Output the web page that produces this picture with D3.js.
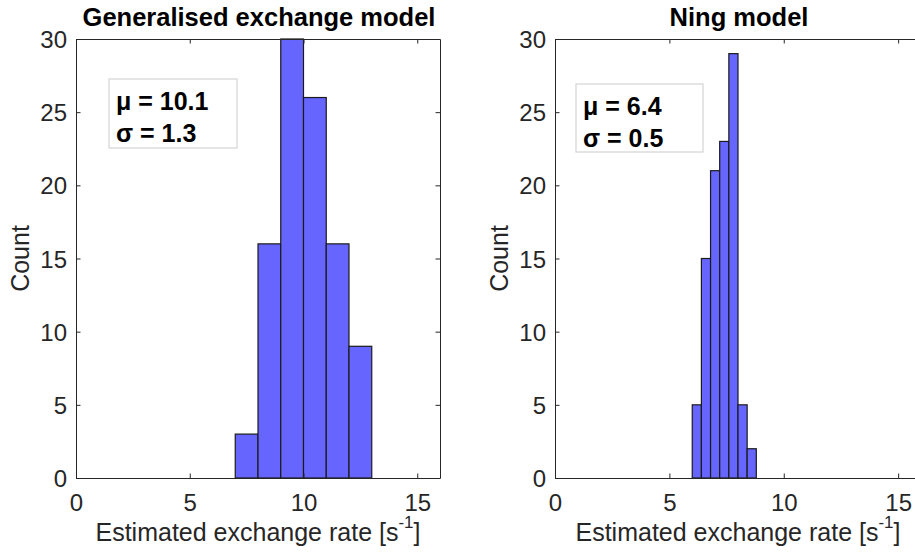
<!DOCTYPE html>
<html>
<head>
<meta charset="utf-8">
<script src="https://cdn.jsdelivr.net/npm/d3@7"></script>
<style>
  html, body { margin: 0; padding: 0; background: #fff; }
  svg { display: block; font-family: "Liberation Sans", Arial, Helvetica, sans-serif; }
</style>
</head>
<body>
<svg id="fig" width="915" height="552"></svg>
<script>
// Histogram bin edges and counts for the two models
const genEdges = [7, 8, 9, 10, 11, 12, 13];
const genCounts = [3, 16, 30, 26, 16, 9];
const ningEdges = [6.0, 6.4, 6.8, 7.2, 7.6, 8.0, 8.4, 8.8];
const ningCounts = [5, 15, 21, 23, 29, 5, 2];

const titles = ["Generalised exchange model", "Ning model"];
const statLines = [["μ = 10.1", "σ = 1.3"], ["μ = 6.4", "σ = 0.5"]];
const xTicks = [0, 5, 10, 15];
const yTicks = [0, 5, 10, 15, 20, 25, 30];
const xDomain = [0, 16];
const yDomain = [0, 30];

const svg = d3.select("#fig");
const axisColor = "#262626";

const panels = [
  { edges: genEdges, counts: genCounts, title: titles[0], stats: statLines[0],
    x0: 76, x1: 440, box: { x: 109, y: 79, w: 128, h: 69 } },
  { edges: ningEdges, counts: ningCounts, title: titles[1], stats: statLines[1],
    x0: 555, x1: 921, box: { x: 576, y: 84, w: 127, h: 68 } }
];
const yTop = 39, yBot = 478;

panels.forEach(p => {
  const x = d3.scaleLinear().domain(xDomain).range([p.x0, p.x1]);
  const y = d3.scaleLinear().domain(yDomain).range([yBot, yTop]);
  const g = svg.append("g");

  // bars
  const bins = p.counts.map((c, i) => ({ a: p.edges[i], b: p.edges[i + 1], c }));
  g.append("g").selectAll("rect").data(bins).join("rect")
    .attr("x", d => x(d.a))
    .attr("y", d => y(d.c))
    .attr("width", d => x(d.b) - x(d.a))
    .attr("height", d => y(0) - y(d.c))
    .attr("fill", "#6666ff")
    .attr("stroke", "#1a1a1a")
    .attr("stroke-width", 1.2);

  const tick = 4.5;
  // bottom axis with labels, ticks pointing inward
  const bottom = g.append("g").attr("transform", `translate(0,${yBot})`)
    .call(d3.axisBottom(x).tickValues(xTicks).tickSize(-tick).tickPadding(16).tickSizeOuter(0));
  // top axis, ticks only
  const top = g.append("g").attr("transform", `translate(0,${yTop})`)
    .call(d3.axisTop(x).tickValues(xTicks).tickSize(-tick).tickSizeOuter(0).tickFormat(""));
  // left axis with labels
  const left = g.append("g").attr("transform", `translate(${p.x0},0)`)
    .call(d3.axisLeft(y).tickValues(yTicks).tickSize(-tick).tickPadding(9).tickSizeOuter(0));
  // right axis, ticks only
  const right = g.append("g").attr("transform", `translate(${p.x1},0)`)
    .call(d3.axisRight(y).tickValues(yTicks).tickSize(-tick).tickSizeOuter(0).tickFormat(""));

  [bottom, top, left, right].forEach(a => {
    a.select(".domain").attr("stroke", axisColor).attr("stroke-width", 1);
    a.selectAll(".tick line").attr("stroke", axisColor).attr("stroke-width", 1);
    a.selectAll(".tick text").attr("fill", axisColor)
      .style("font-size", "24px").style("font-family", "Liberation Sans, Arial, sans-serif");
  });
  left.selectAll(".tick text").attr("dy", "0.36em");

  // title
  g.append("text")
    .attr("x", (p.x0 + p.x1) / 2 + 1).attr("y", 26)
    .attr("text-anchor", "middle")
    .attr("font-weight", "bold").attr("font-size", 25.5)
    .attr("fill", "#000")
    .text(p.title);

  // x label with superscript
  const xl = g.append("text")
    .attr("x", (p.x0 + p.x1) / 2).attr("y", 541)
    .attr("text-anchor", "middle")
    .attr("font-size", 25).attr("fill", axisColor);
  xl.append("tspan").text("Estimated exchange rate [s");
  xl.append("tspan").attr("dy", -13).attr("font-size", 17).text("-1");
  xl.append("tspan").attr("dy", 13).text("]");

  // y label
  g.append("text")
    .attr("transform", `translate(${p.x0 - 47},${(yTop + yBot) / 2}) rotate(-90)`)
    .attr("text-anchor", "middle")
    .attr("font-size", 25).attr("fill", axisColor)
    .text("Count");

  // statistics box
  g.append("rect")
    .attr("x", p.box.x).attr("y", p.box.y)
    .attr("width", p.box.w).attr("height", p.box.h)
    .attr("fill", "#fff").attr("stroke", "#d4d4d4").attr("stroke-width", 1.2);
  p.stats.forEach((s, i) => {
    g.append("text")
      .attr("x", p.box.x + 7).attr("y", p.box.y + 31 + i * 32)
      .attr("font-weight", "bold").attr("font-size", 25).attr("fill", "#000")
      .text(s);
  });
});
</script>
</body>
</html>
